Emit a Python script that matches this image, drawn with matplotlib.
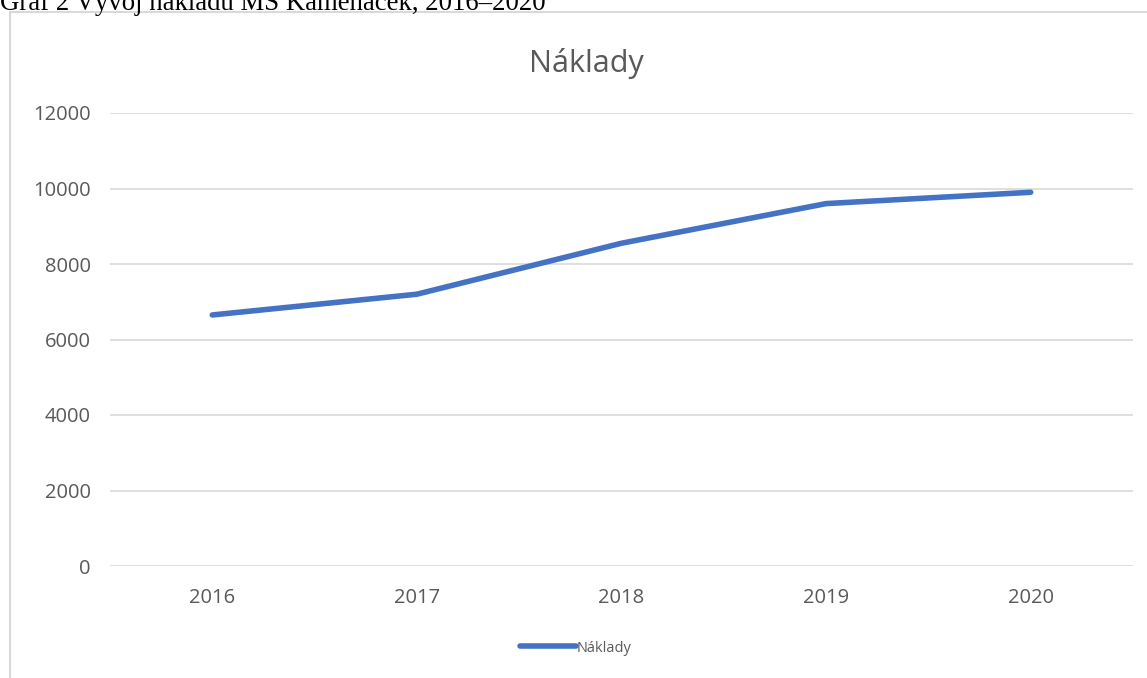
import matplotlib
matplotlib.use("Agg")
import matplotlib.pyplot as plt
from matplotlib.patches import Rectangle

years = ["2016", "2017", "2018", "2019", "2020"]
naklady = [6650, 7200, 8550, 9600, 9900]
y_ticks = [0, 2000, 4000, 6000, 8000, 10000, 12000]

W, H = 1147, 678
fig = plt.figure(figsize=(W / 100, H / 100), dpi=100)
fig.patch.set_facecolor("white")

# chart frame
fig.patches.append(Rectangle((10 / W, -0.01), 1.2, 1 - 12 / H + 0.01,
                             transform=fig.transFigure, fill=False,
                             edgecolor="#d9d9d9", linewidth=1.5))

# caption (cut at top, as in the reference)
fig.text(0 / W, 1 - 10 / H, "Graf 2 Vývoj nákladů MŠ Kameňáček, 2016–2020",
         family="Liberation Serif", fontsize=19.3, color="black",
         ha="left", va="baseline")

ax = fig.add_axes([110 / W, 1 - 566 / H, (1133 - 110) / W, (566 - 113) / H])
x = list(range(len(years)))
ax.plot(x, naklady, color="#4472C4", linewidth=4, solid_capstyle="round",
        solid_joinstyle="round", label="Náklady", zorder=3)
ax.set_xlim(-0.5, len(years) - 0.5)
ax.set_ylim(0, 12000)
ax.set_yticks(y_ticks)
ax.set_yticklabels([str(v) for v in y_ticks])
ax.set_xticks(x)
ax.set_xticklabels(years)
ax.grid(axis="y", color="#d9d9d9", linewidth=1.2)
ax.set_axisbelow(True)
for s in ax.spines.values():
    s.set_visible(False)
ax.tick_params(length=0, colors="#595959", labelsize=14.5, pad=14)
ax.tick_params(axis="x", pad=16)
for lab in ax.get_xticklabels() + ax.get_yticklabels():
    lab.set_family("Open Sans")

# chart title, centred on the chart area
fig.text(586 / W, 1 - 72 / H, "Náklady", family="Open Sans", fontsize=22,
         color="#595959", ha="center", va="baseline")

handles, labels = ax.get_legend_handles_labels()
leg = fig.legend(handles, labels, loc="center", bbox_to_anchor=(576 / W, 1 - 648 / H),
                 frameon=False, prop={"family": "Open Sans", "size": 10.5},
                 handlelength=3.8, handletextpad=0.1)
for t in leg.get_texts():
    t.set_color("#595959")

fig.savefig("out.png", dpi=100, facecolor="white")
